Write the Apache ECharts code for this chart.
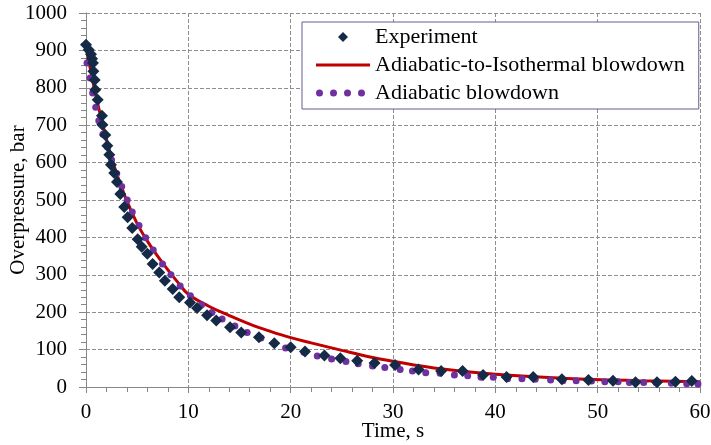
<!DOCTYPE html>
<html>
<head>
<meta charset="utf-8">
<script src="https://cdn.jsdelivr.net/npm/echarts@6/dist/echarts.min.js"></script>
<style>
    * { margin: 0; padding: 0; }
    #main { width: 711px; height: 445px; background: #ffffff; }
</style>
</head>
<body>
<div id="main"></div>
<script>
    // Experiment (diamonds)
    var expT = [0, 0.26, 0.49, 0.59, 0.68, 0.72, 0.85, 0.91, 1.14, 1.56, 1.6, 1.89, 2.08, 2.28, 2.44, 2.76, 3.03, 3.35, 3.74, 4.07,
                4.52, 5.05, 5.44, 5.99, 6.51, 7.16, 7.71, 8.47, 9.11, 10.16, 10.85, 11.83, 12.73, 14.08, 15.17, 16.9, 18.4, 20.0, 21.4, 23.3,
                24.85, 26.5, 28.2, 30.2, 32.5, 34.7, 36.8, 38.8, 41.1, 43.7, 46.5, 49.1, 51.5, 53.7, 55.8, 57.6, 59.2];
    var expP = [915, 902, 890, 878, 866, 844, 821, 795, 768, 725, 701, 674, 645, 621, 594, 572, 548, 516, 481, 454,
                425, 395, 375, 356, 329, 306, 284, 262, 240, 226, 211, 192, 178, 160, 146, 133, 117, 106, 95, 84,
                77, 70, 64, 59, 47, 43, 43, 32, 27, 27, 21, 19, 17, 13, 13, 14, 16];

    // Adiabatic-to-Isothermal blowdown (red line)
    var isoT = [0, 0.5, 1, 1.5, 2, 2.5, 3, 4, 5, 6, 7, 8, 9, 10, 12, 14, 16, 18, 20, 22, 25, 28, 30, 34, 40, 47, 54, 60];
    var isoP = [910, 840, 775, 716, 662, 613, 570, 497, 437, 390, 350, 313, 279, 248, 216, 191, 168, 149, 132, 118, 98, 79, 69, 51, 34, 23, 17, 14];

    // Adiabatic blowdown (purple dots)
    var adiT = [0.1, 0.4, 0.65, 0.95, 1.25, 1.65, 2.1, 2.5, 3.0, 3.49, 4.03, 4.52, 5.18, 5.83, 6.57, 7.48, 8.3, 9.2, 10.2, 11.3,
                12.3, 13.3, 14.55, 15.75, 17.1, 18.4, 19.5, 21.3, 22.6, 24.0, 25.4, 26.6, 28.0, 29.2, 30.7, 31.9, 33.2, 34.6, 36.0, 37.3,
                38.6, 39.8, 41.2, 42.6, 43.9, 45.4, 46.6, 47.9, 49.4, 50.7, 52.0, 53.1, 54.5, 55.7, 57.2, 58.7, 59.8];
    var adiP = [866, 826, 786, 748, 712, 676, 642, 607, 571, 536, 500, 468, 432, 399, 366, 329, 300, 270, 244, 220,
                199, 182, 163, 146, 131, 117, 104, 93, 83, 75, 68, 62, 56, 52, 47, 43, 38, 37, 32, 30,
                26, 26, 22, 22, 21, 19, 17, 17, 16, 14, 14, 12, 12, 12, 10, 9, 8];

    var xTicks = [0, 60, 10];
    var yTicks = [0, 1000, 100];

    function pairs(xs, ys) {
        return xs.map(function (x, i) { return [x, ys[i]]; });
    }

    var font = 'Liberation Serif, Times New Roman, serif';
    var axisGray = '#868686';
    var gridGray = '#8e8e8e';

    var chart = echarts.init(document.getElementById('main'));

    var option = {
        animation: false,
        grid: { left: 86, right: 11, top: 13, bottom: 58, containLabel: false, outerBoundsMode: 'none' },
        legend: {
            orient: 'vertical',
            left: 302,
            top: 22,
            selectedMode: false,
            backgroundColor: '#ffffff',
            borderColor: '#6a5a8c',
            borderWidth: 1,
            padding: [4, 14, 5, 14],
            itemWidth: 54,
            itemHeight: 10,
            itemGap: 6,
            itemTextGap: 5,
            textStyle: { fontFamily: font, fontSize: 22, color: '#000', lineHeight: 22 },
            data: [
                { name: 'Experiment', icon: 'path://M0,0L0,0M27,0L32,5L27,10L22,5ZM54,10L54,10' },
                { name: 'Adiabatic-to-Isothermal blowdown', icon: 'path://M0,0L0,0M0,3.5L54,3.5L54,6.5L0,6.5ZM54,10L54,10' },
                { name: 'Adiabatic blowdown',
                  icon: 'path://M0,0L0,0M0,5a3.5,3.5 0 1,0 7,0a3.5,3.5 0 1,0 -7,0M14,5a3.5,3.5 0 1,0 7,0a3.5,3.5 0 1,0 -7,0M28,5a3.5,3.5 0 1,0 7,0a3.5,3.5 0 1,0 -7,0M42,5a3.5,3.5 0 1,0 7,0a3.5,3.5 0 1,0 -7,0M54,10L54,10' }
            ]
        },
        xAxis: {
            type: 'value',
            min: xTicks[0],
            max: xTicks[1],
            interval: xTicks[2],
            name: 'Time, s',
            nameLocation: 'middle',
            nameGap: 34,
            nameMoveOverlap: false,
            nameTextStyle: { fontFamily: font, fontSize: 21, color: '#000' },
            axisLine: { lineStyle: { color: axisGray, width: 1 } },
            axisTick: { length: 6, lineStyle: { color: axisGray } },
            minorTick: { show: true, splitNumber: 5, length: 5, lineStyle: { color: axisGray } },
            axisLabel: { fontFamily: font, fontSize: 21, color: '#000', margin: 15, formatter: function (v) { return String(v); } },
            splitLine: { show: true, lineStyle: { color: gridGray, type: [4, 2], width: 1 } }
        },
        yAxis: {
            type: 'value',
            min: yTicks[0],
            max: yTicks[1],
            interval: yTicks[2],
            name: 'Overpressure, bar',
            nameLocation: 'middle',
            nameGap: 57,
            nameMoveOverlap: false,
            nameTextStyle: { fontFamily: font, fontSize: 21, color: '#000' },
            axisLine: { show: true, lineStyle: { color: axisGray, width: 1 } },
            axisTick: { show: true, length: 7, lineStyle: { color: axisGray } },
            minorTick: { show: true, splitNumber: 5, length: 5, lineStyle: { color: axisGray } },
            axisLabel: { fontFamily: font, fontSize: 21, color: '#000', margin: 19, formatter: function (v) { return String(v); } },
            splitLine: { show: true, lineStyle: { color: gridGray, type: [4, 2], width: 1 } }
        },
        series: [
            {
                name: 'Adiabatic-to-Isothermal blowdown',
                type: 'line',
                data: pairs(isoT, isoP),
                smooth: 0.4,
                symbol: 'none',
                color: '#c00000',
                lineStyle: { color: '#c00000', width: 3 },
                z: 2
            },
            {
                name: 'Adiabatic blowdown',
                type: 'scatter',
                data: pairs(adiT, adiP),
                symbol: 'circle',
                symbolSize: 7,
                itemStyle: { color: '#7030a0', opacity: 1 },
                z: 3
            },
            {
                name: 'Experiment',
                type: 'scatter',
                data: pairs(expT, expP),
                symbol: 'diamond',
                symbolSize: [12, 12],
                itemStyle: { color: '#142a47', opacity: 1 },
                z: 4
            }
        ]
    };

    chart.setOption(option);
</script>
</body>
</html>
